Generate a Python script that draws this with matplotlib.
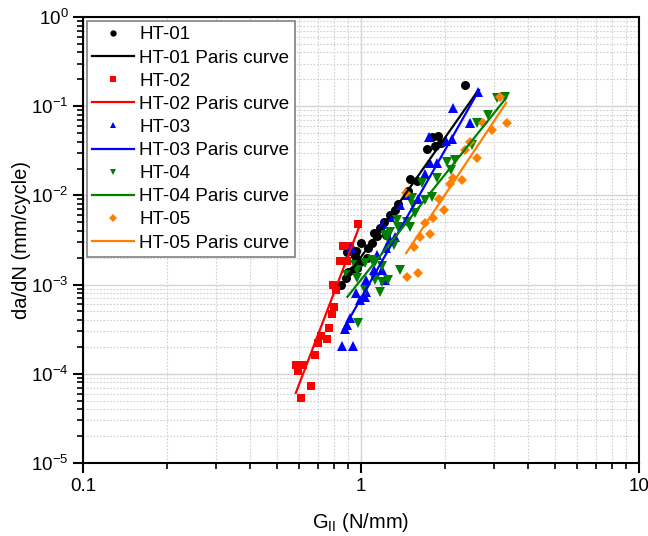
import numpy as np
import matplotlib
matplotlib.use('Agg')
import matplotlib.pyplot as plt
from matplotlib.ticker import LogLocator, FixedLocator, FixedFormatter, NullFormatter

plt.rcParams['font.family'] = ['Liberation Sans', 'DejaVu Sans']
plt.rcParams['mathtext.fontset'] = 'custom'
plt.rcParams['mathtext.rm'] = 'Liberation Sans'
plt.rcParams['mathtext.it'] = 'Liberation Sans:italic'

# HT-01 (circles)
g01 = [2.37, 1.89, 1.80, 1.73, 1.85, 1.94, 1.50, 1.59, 1.48, 1.36, 1.27, 1.21, 1.17,
       1.11, 1.14, 1.06, 1.00, 0.96, 0.91, 0.95, 1.05, 0.97, 0.94, 0.89, 0.90, 0.88,
       0.85, 1.33, 1.23, 0.99, 1.10]
r01 = [0.173, 0.0463, 0.045, 0.033, 0.036, 0.039, 0.0153, 0.0145, 0.0112, 0.0080,
       0.0060, 0.0050, 0.0043, 0.0038, 0.0035, 0.0026, 0.0029, 0.0024, 0.0026, 0.0021,
       0.0020, 0.00155, 0.00146, 0.0023, 0.0014, 0.0012, 0.00099, 0.0069, 0.0036,
       0.0018, 0.0029]

# HT-02 (squares)
g02 = [0.975, 0.862, 0.913, 0.840, 0.890, 0.793, 0.813, 0.80, 0.79, 0.767, 0.718,
       0.755, 0.70, 0.683, 0.583, 0.618, 0.593, 0.661, 0.608]
r02 = [4.8e-3, 2.7e-3, 2.7e-3, 1.85e-3, 1.85e-3, 1.0e-3, 8.7e-4, 5.6e-4, 4.7e-4,
       3.3e-4, 2.65e-4, 2.45e-4, 2.2e-4, 1.62e-4, 1.26e-4, 1.26e-4, 1.07e-4, 7.3e-5,
       5.4e-5]

# HT-03 (up triangles)
g03 = [2.64, 2.14, 2.47, 1.76, 2.13, 2.02, 1.88, 1.77, 1.70, 1.46, 1.60, 1.38, 1.27,
       1.20, 1.33, 1.27, 1.23, 1.14, 1.19, 1.11, 1.04, 1.22, 0.96, 1.04, 1.03, 0.99,
       0.913, 0.894, 0.876, 0.852, 0.936, 0.92]
r03 = [0.144, 0.0954, 0.0648, 0.0451, 0.0429, 0.0408, 0.0231, 0.0231, 0.0174, 0.0101,
       0.0091, 0.0078, 0.00573, 0.00478, 0.00342, 0.00316, 0.00257, 0.00215, 0.00146,
       0.00146, 0.00113, 0.00113, 0.00080, 0.00082, 0.00073, 0.00067, 0.00042, 0.00035,
       0.00032, 0.000205, 0.000205, 0.00257]

# HT-04 (down triangles)
g04 = [3.30, 3.09, 2.86, 2.61, 2.51, 2.18, 2.04, 2.11, 1.88, 1.66, 1.80, 1.70, 1.53,
       1.54, 1.35, 1.27, 1.36, 1.50, 1.56, 1.47, 1.24, 1.31, 1.12, 1.10, 0.95, 0.97,
       1.12, 1.19, 0.89, 1.03, 1.25, 1.22, 1.03, 1.19, 0.97, 1.17, 0.975, 1.38]
r04 = [0.127, 0.124, 0.0797, 0.0648, 0.0367, 0.0249, 0.0237, 0.0193, 0.0157, 0.0138,
       0.0096, 0.0089, 0.0093, 0.0078, 0.0053, 0.00389, 0.00442, 0.00442, 0.00635,
       0.00503, 0.00342, 0.00278, 0.00179, 0.00189, 0.00166, 0.00119, 0.00113, 0.00107,
       0.00128, 0.00087, 0.00113, 0.0036, 0.00175, 0.00162, 0.00146, 0.00083, 0.00037,
       0.00146]

# HT-05 (diamonds)
g05 = [3.16, 2.75, 3.35, 2.96, 2.47, 2.61, 2.37, 2.14, 2.31, 2.09, 1.91, 1.99, 1.82,
       1.70, 1.77, 1.55, 1.45, 1.46, 1.60, 1.63]
r05 = [0.127, 0.0648, 0.0648, 0.0541, 0.0397, 0.0263, 0.0323, 0.0157, 0.0149, 0.0134,
       0.0091, 0.00686, 0.00558, 0.00491, 0.00369, 0.00264, 0.0106, 0.00122, 0.00135,
       0.0034]

# Paris curve end points (G, da/dN)
paris_g = [[0.876, 2.60], [0.583, 1.0], [0.862, 2.66], [0.894, 3.33], [1.455, 3.33]]
paris_r = [[1.13e-3, 0.14], [6.1e-5, 5.0e-3], [3.1e-4, 0.152], [7.3e-4, 0.124],
           [2.26e-3, 0.109]]

names = ['HT-01', 'HT-02', 'HT-03', 'HT-04', 'HT-05']
colors = ['black', '#FF0000', '#0000FF', '#008000', '#FF8000']
markers = ['o', 's', '^', 'v', 'D']
sizes = [6.5, 6, 7, 7, 5.5]

fig = plt.figure(figsize=(6.48, 5.36), dpi=100)
ax = fig.add_axes([0.128, 0.1362, 0.858, 0.8321])

data = [(g01, r01), (g02, r02), (g03, r03), (g04, r04), (g05, r05)]
for i, (g, r) in enumerate(data):
    ax.plot(g, r, linestyle='none', marker=markers[i], color=colors[i],
            markersize=sizes[i], markeredgewidth=0, label=names[i], zorder=3)
    ax.plot(paris_g[i], paris_r[i], color=colors[i], lw=1.6,
            label=names[i] + ' Paris curve', zorder=4)

ax.set_xscale('log')
ax.set_yscale('log')
ax.set_xlim(0.1, 10)
ax.set_ylim(1e-5, 1)

ax.xaxis.set_major_locator(FixedLocator([0.1, 1, 10]))
ax.xaxis.set_major_formatter(FixedFormatter(['0.1', '1', '10']))
ax.xaxis.set_minor_locator(LogLocator(base=10, subs=np.arange(2, 10)))
ax.xaxis.set_minor_formatter(NullFormatter())
ax.yaxis.set_major_locator(LogLocator(base=10, numticks=10))
ax.yaxis.set_minor_locator(LogLocator(base=10, subs=np.arange(2, 10), numticks=20))
ax.yaxis.set_minor_formatter(NullFormatter())

ax.grid(True, which='major', color='#d4d4d4', lw=1.0, ls='-')
ax.grid(True, which='minor', color='#d0d0d0', lw=0.8, ls=(0, (1.5, 1.5)))
ax.set_axisbelow(True)

for s in ax.spines.values():
    s.set_linewidth(1.5)
ax.tick_params(which='major', direction='out', length=7, width=1.5, labelsize=13.5,
               top=False, right=False)
ax.tick_params(which='minor', direction='out', length=4, width=1.2, top=False, right=False)

ax.set_xlabel('G$_{\\mathregular{II}}$ (N/mm)', fontsize=14.5, labelpad=12)
ax.set_ylabel('da/dN (mm/cycle)', fontsize=14.5, labelpad=0)

leg = ax.legend(loc='upper left', fontsize=13.5, frameon=True, fancybox=False,
                edgecolor='#808080', framealpha=1, borderaxespad=0.2,
                borderpad=0.3, labelspacing=0.32, handlelength=2.2,
                handletextpad=0.3, markerscale=0.7)
leg.get_frame().set_linewidth(1.2)

fig.savefig('out.png', dpi=100)
